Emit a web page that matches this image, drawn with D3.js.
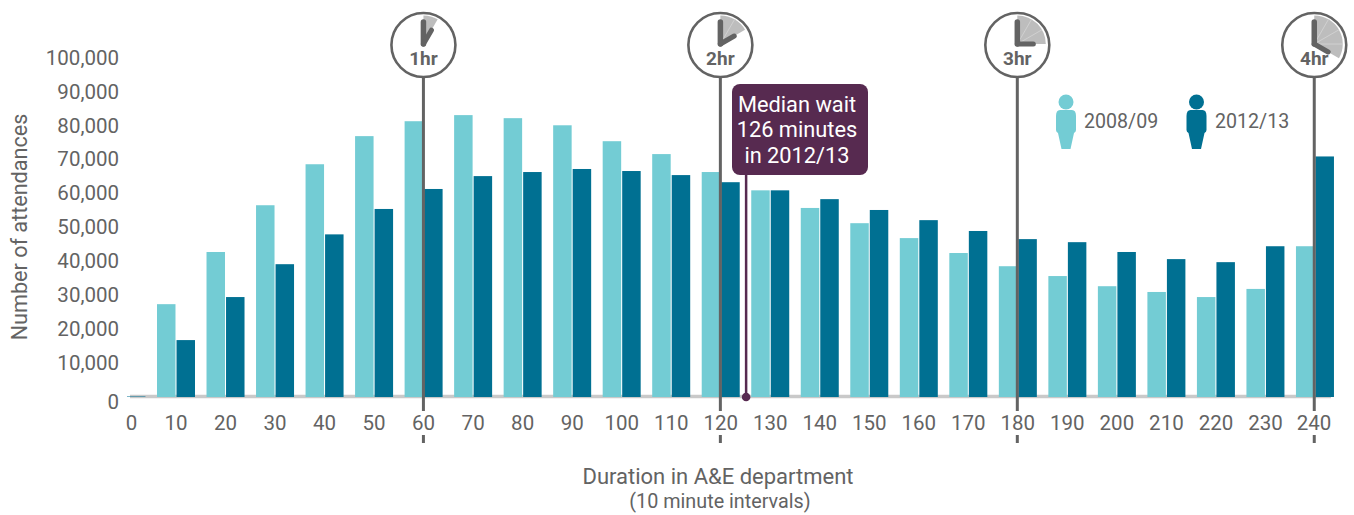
<!DOCTYPE html>
<html><head><meta charset="utf-8">
<script src="https://cdnjs.cloudflare.com/ajax/libs/d3/7.8.5/d3.min.js"></script>
<style>html,body{margin:0;padding:0;background:#fff}svg{display:block}text{font-family:Roboto,sans-serif}</style>
</head><body><svg id="c" width="1354" height="515"></svg>
<script>
const minutes=[0,10,20,30,40,50,60,70,80,90,100,110,120,130,140,150,160,170,180,190,200,210,220,230,240];
const series2008=[0,27400,42800,56600,68700,77000,81400,83200,82300,80200,75500,71700,66400,61000,55800,51300,46900,42500,38600,35700,32700,31000,29500,31900,44500];
const series2012=[150,16800,29500,39200,48000,55500,61400,65200,66400,67300,66700,65500,63400,61000,58400,55200,52200,49000,46600,45700,42800,40700,39800,44500,71000];
const seriesNames=["2008/09","2012/13"];
const seriesColors=["#73ccd4","#007092"];
const yTicks=[0,10000,20000,30000,40000,50000,60000,70000,80000,90000,100000];
const clockHours=[1,2,3,4];
const calloutLines=["Median wait","126 minutes","in 2012/13"];
const medianMark=125;
const ink="#636363";

const svg=d3.select("#c");
const step=49.52, x0=176-step; // centre of category 0
const x=d3.scaleBand().domain(minutes).range([x0-step/2,x0-step/2+step*minutes.length]).paddingInner(1-38/step).paddingOuter((1-38/step)/2);
const xs=d3.scaleBand().domain(seriesNames).range([0,x.bandwidth()]).paddingInner(2/38);
const xm=d3.scaleLinear().domain([0,240]).range([x(0)+x.bandwidth()/2,x(240)+x.bandwidth()/2-0.7]);
const y=d3.scaleLinear().domain([0,100000]).range([397,58.2]);

// baseline
svg.append("line").attr("x1",130).attr("x2",1331).attr("y1",396.5).attr("y2",396.5).attr("stroke","#c9c9c9").attr("stroke-width",3.4);

// bars
[series2008,series2012].forEach((vals,i)=>{
  svg.append("g").selectAll("rect").data(vals).join("rect")
    .attr("x",(d,j)=>x(minutes[j])+xs(seriesNames[i]))
    .attr("width",xs.bandwidth())
    .attr("y",d=>y(d)).attr("height",d=>y(0)-y(d)).attr("fill",seriesColors[i]);
});

// axes
const gy=svg.append("g").attr("transform","translate(119,0)")
  .call(d3.axisLeft(y).tickValues(yTicks).tickFormat(d3.format(",")).tickSize(0).tickPadding(0));
gy.select(".domain").remove();
gy.selectAll("text").attr("font-size",20.5).attr("fill",ink).style("font-family","Roboto,sans-serif")
  .attr("dy",d=>d===0?"0.56em":"0.3em");

const gx=svg.append("g").attr("transform","translate(0,411)")
  .call(d3.axisBottom(x).tickSize(0).tickPadding(0));
gx.select(".domain").remove();
gx.selectAll("text").attr("font-size",20.5).attr("fill",ink).style("font-family","Roboto,sans-serif")
  .attr("dy","0.93em").attr("dx",d=>d===0?5:(d===240?-1:0));

// titles
svg.append("text").attr("transform","translate(26.5,227) rotate(-90)").attr("text-anchor","middle")
  .attr("font-size",21.6).attr("fill",ink).text("Number of attendances");
svg.append("text").attr("x",718).attr("y",484).attr("text-anchor","middle").attr("font-size",22).attr("fill",ink).text("Duration in A&E department");
svg.append("text").attr("x",720).attr("y",508).attr("text-anchor","middle").attr("font-size",19.8).attr("fill",ink).text("(10 minute intervals)");

// clocks
const arc=d3.arc().innerRadius(0).outerRadius(28.5);
clockHours.forEach(h=>{
  const cx=xm(h*60), cy=45, a=h*Math.PI/6;
  const g=svg.append("g");
  g.append("line").attr("x1",cx).attr("x2",cx).attr("y1",cy+32).attr("y2",411).attr("stroke",ink).attr("stroke-width",3);
  g.append("line").attr("x1",cx).attr("x2",cx).attr("y1",435).attr("y2",443).attr("stroke",ink).attr("stroke-width",3);
  g.append("circle").attr("cx",cx).attr("cy",cy).attr("r",32).attr("fill","#fff").attr("stroke",ink).attr("stroke-width",2.6);
  g.append("path").attr("transform",`translate(${cx},${cy-1})`).attr("d",arc({startAngle:0,endAngle:a})).attr("fill","#bdbdbd");
  for(let k=1;k<h;k++){
    const b=k*Math.PI/6;
    g.append("line").attr("x1",cx).attr("y1",cy-1).attr("x2",cx+28.5*Math.sin(b)).attr("y2",cy-1-28.5*Math.cos(b)).attr("stroke","#d9d9d9").attr("stroke-width",0.7);
  }
  g.append("line").attr("x1",cx).attr("y1",cy-1).attr("x2",cx).attr("y2",cy-23).attr("stroke",ink).attr("stroke-width",5.5).attr("stroke-linecap","round");
  g.append("line").attr("x1",cx).attr("y1",cy-1).attr("x2",cx+16*Math.sin(a)).attr("y2",cy-1-16*Math.cos(a)).attr("stroke",ink).attr("stroke-width",5).attr("stroke-linecap","round");
  g.append("text").attr("x",cx).attr("y",65).attr("text-anchor","middle").attr("font-size",19).attr("font-weight",700).attr("fill",ink).text(h+"hr");
});

// median callout
const mx=xm(medianMark)+1;
svg.append("line").attr("x1",mx).attr("x2",mx).attr("y1",170).attr("y2",397).attr("stroke","#572a50").attr("stroke-width",2.5);
svg.append("circle").attr("cx",mx).attr("cy",397).attr("r",4.3).attr("fill","#572a50");
svg.append("rect").attr("x",732).attr("y",84).attr("width",136).attr("height",91).attr("rx",8).attr("fill","#572a50");
svg.append("g").selectAll("text").data(calloutLines).join("text")
  .attr("x",797).attr("y",(d,i)=>112+i*25.4).attr("text-anchor","middle").attr("font-size",21.8).attr("fill","#fff").text(d=>d);

// legend
const legendX=[1066,1196.5], legendTextX=[1084,1215];
const body=d3.path();
body.moveTo(-6,110);body.lineTo(6,110);body.quadraticCurveTo(10,110,10,116);body.lineTo(10,130);body.quadraticCurveTo(10,132,8,133);
body.lineTo(4.5,149);body.lineTo(-4.5,149);body.lineTo(-8,133);body.quadraticCurveTo(-10,132,-10,130);body.lineTo(-10,116);body.quadraticCurveTo(-10,110,-6,110);body.closePath();
seriesNames.forEach((n,i)=>{
  const g=svg.append("g").attr("transform",`translate(${legendX[i]},0)`).attr("fill",seriesColors[i]);
  g.append("circle").attr("cy",102).attr("r",7.5);
  g.append("path").attr("d",body.toString());
  svg.append("text").attr("x",legendTextX[i]).attr("y",128).attr("font-size",19.6).attr("fill",ink).text(n);
});
</script></body></html>
